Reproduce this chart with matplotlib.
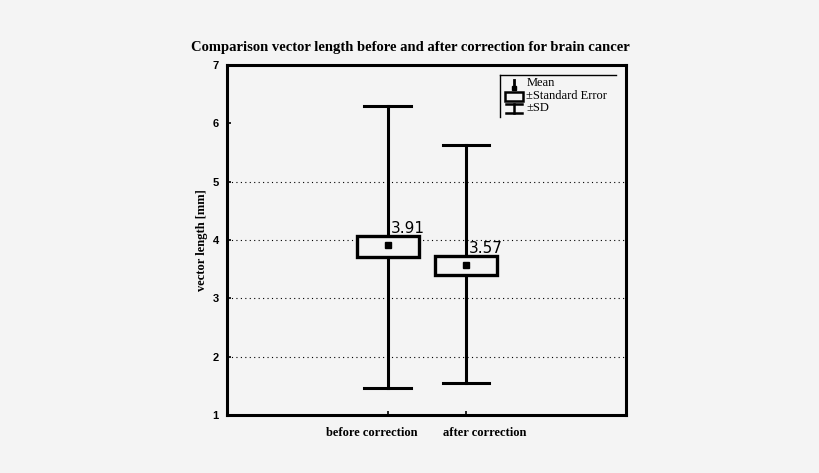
import matplotlib
matplotlib.use("Agg")
import matplotlib.pyplot as plt
from matplotlib.patches import Rectangle

categories = ["before correction", "after correction"]
means = [3.91, 3.57]
se_low = [3.71, 3.40]
se_high = [4.07, 3.73]
sd_low = [1.47, 1.55]
sd_high = [6.30, 5.62]
yticks = [1, 2, 3, 4, 5, 6, 7]

bg = "#f4f4f4"
fig = plt.figure(figsize=(8.2, 4.73), dpi=100, facecolor=bg)
ax = fig.add_axes([0.2768, 0.1226, 0.4866, 0.74])
ax.set_facecolor(bg)

positions = [1, 2]
label_pos = [0.80, 2.24]
box_w = 0.79
cap_w = 0.6
for i, p in enumerate(positions):
    ax.plot([p, p], [sd_low[i], sd_high[i]], color="black", lw=2.2, zorder=2)
    ax.plot([p - cap_w / 2, p + cap_w / 2], [sd_low[i]] * 2, color="black", lw=2.2, zorder=2)
    ax.plot([p - cap_w / 2, p + cap_w / 2], [sd_high[i]] * 2, color="black", lw=2.2, zorder=2)
    ax.add_patch(Rectangle((p - box_w / 2, se_low[i]), box_w, se_high[i] - se_low[i],
                           facecolor=bg, edgecolor="black", lw=2.4, zorder=3))
    ax.plot(p, means[i], marker="s", ms=4.5, color="black", zorder=4)
    ax.text(p + 0.035, se_high[i] + 0.0, f"{means[i]:.2f}", fontsize=11,
            family="DejaVu Sans", ha="left", va="bottom", zorder=5)
    ax.text(label_pos[i], -0.035, categories[i], fontsize=9, fontweight="bold",
            family="Liberation Serif", ha="center", va="top",
            transform=ax.get_xaxis_transform())

ax.set_xlim(-1.055, 4.045)
ax.set_ylim(1, 7)
ax.set_yticks(yticks)
ax.set_yticklabels([str(t) for t in yticks], fontsize=8, fontweight="bold", family="Liberation Sans")
ax.set_xticks(positions)
ax.set_xticklabels(["", ""])
ax.tick_params(axis="y", direction="in", length=3, width=1.2, pad=6)
ax.tick_params(axis="x", direction="in", length=3, width=1.2, pad=8)
for y in [2, 3, 4, 5]:
    ax.axhline(y, color="black", lw=0.8, ls=(0, (1, 3)), zorder=1)
for s in ax.spines.values():
    s.set_linewidth(2.2)

ax.set_ylabel("vector length [mm]", fontsize=9, fontweight="bold", family="Liberation Serif", labelpad=3)
fig.text(0.501, 0.900, "Comparison vector length before and after correction for brain cancer",
         fontsize=10.5, fontweight="bold", family="Liberation Serif", ha="center", va="center")

# Legend drawn manually in axes fraction coordinates
tr = ax.transAxes
ax.plot([0.683, 0.975], [0.97, 0.97], color="black", lw=1, transform=tr, clip_on=False)
ax.plot([0.683, 0.683], [0.97, 0.85], color="black", lw=1, transform=tr, clip_on=False)
# Mean symbol
ax.plot([0.72, 0.72], [0.935, 0.958], color="black", lw=2, transform=tr)
ax.plot(0.72, 0.933, marker="s", ms=3.5, color="black", transform=tr)
ax.text(0.75, 0.948, "Mean", fontsize=9, family="Liberation Serif", va="center", transform=tr)
# SE box
ax.add_patch(Rectangle((0.697, 0.898), 0.046, 0.024, facecolor=bg, edgecolor="black", lw=1.8, transform=tr))
ax.text(0.75, 0.912, "\u00b1Standard Error", fontsize=9, family="Liberation Serif", va="center", transform=tr)
# SD symbol
ax.plot([0.700, 0.740], [0.888, 0.888], color="black", lw=1.8, transform=tr)
ax.plot([0.700, 0.740], [0.862, 0.862], color="black", lw=1.8, transform=tr)
ax.plot([0.720, 0.720], [0.862, 0.888], color="black", lw=1.8, transform=tr)
ax.text(0.75, 0.876, "\u00b1SD", fontsize=9, family="Liberation Serif", va="center", transform=tr)

fig.savefig("out.png", dpi=100, facecolor=bg)
